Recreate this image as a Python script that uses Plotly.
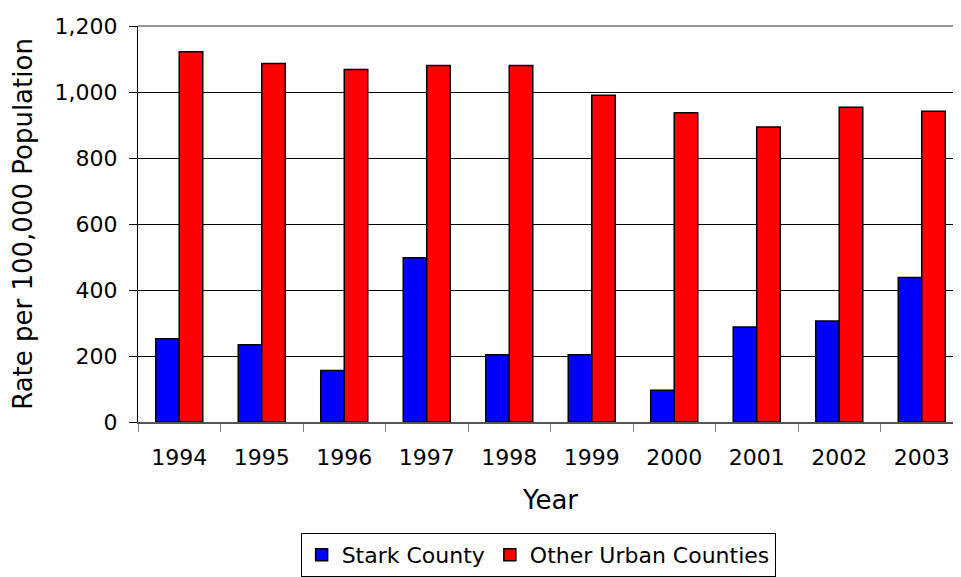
import plotly.graph_objects as go

anios = ["1994", "1995", "1996", "1997", "1998", "1999", "2000", "2001", "2002", "2003"]
stark = [252, 234, 156, 498, 204, 204, 96, 288, 306, 438]
otros_urbanos = [1122, 1086, 1068, 1080, 1080, 990, 937, 894, 954, 942]
ticks_y = [0, 200, 400, 600, 800, 1000, 1200]

fig = go.Figure()

fig.add_trace(go.Bar(
    x=anios, y=stark, name="Stark County",
    marker=dict(color="#0000ff", line=dict(color="#000000", width=1.5)),
))
fig.add_trace(go.Bar(
    x=anios, y=otros_urbanos, name="Other Urban Counties",
    marker=dict(color="#ff0000", line=dict(color="#000000", width=1.5)),
))

# borde superior gris del area de trazado
fig.add_shape(type="line", xref="paper", yref="paper", x0=0, x1=1, y0=1, y1=1,
              line=dict(color="#999999", width=2))

fig.update_layout(
    width=961, height=577,
    barmode="group", bargap=0.43, bargroupgap=0,
    plot_bgcolor="#ffffff", paper_bgcolor="#ffffff",
    font=dict(family="DejaVu Sans", size=22, color="#000000"),
    # la pagina agrega ~8px de margen al cuerpo
    margin=dict(l=130, r=6, t=14, b=163),
    xaxis=dict(
        title=dict(text="Year", standoff=22),
        type="category", tickson="boundaries",
        ticks="outside", ticklen=8, tickcolor="#808080",
        ticklabelstandoff=15,
        showline=True, linecolor="#555555", linewidth=1.5,
        showgrid=False,
    ),
    yaxis=dict(
        title=dict(text="Rate per 100,000 Population", standoff=14),
        range=[0, 1200], tickvals=ticks_y, tickformat=",d",
        ticks="outside", ticklen=8, tickcolor="#000000",
        ticklabelstandoff=7,
        showline=True, linecolor="#000000", linewidth=1,
        showgrid=True, gridcolor="#000000", gridwidth=1,
        zeroline=False,
    ),
    legend=dict(
        orientation="h", x=0.485, xanchor="center", y=-0.28, yanchor="top",
        bordercolor="#000000", borderwidth=1, bgcolor="#ffffff",
        font=dict(size=22), traceorder="normal",
        itemwidth=30, entrywidthmode="pixels",
    ),
)

fig.write_html("out.html")
